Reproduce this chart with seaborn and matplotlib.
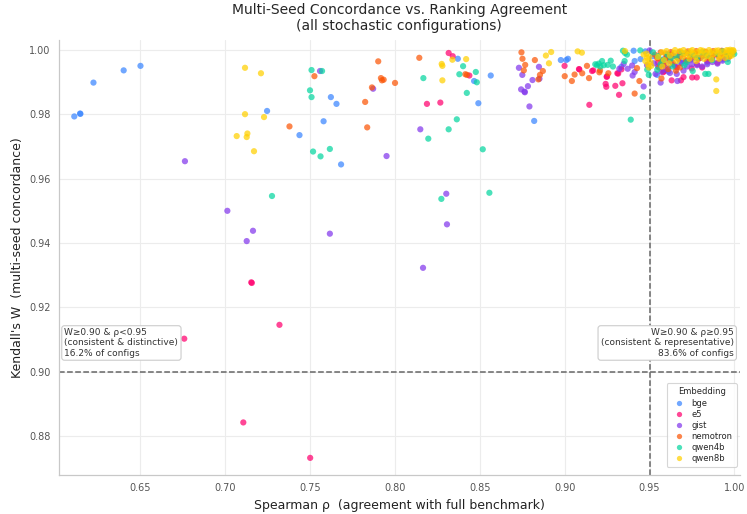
import matplotlib
matplotlib.use("Agg")
import matplotlib.pyplot as plt
import seaborn as sns
import pandas as pd

# Spearman rho vs. Kendall's W, one list pair per embedding model
bge_rho = [0.6110, 0.6144, 0.6146, 0.6223, 0.6401, 0.6500, 0.7246, 0.7437, 0.7579, 0.7622,
           0.7655, 0.7682, 0.8370, 0.8466, 0.8564, 0.8491, 0.8820, 0.8977, 0.9009, 0.9019,
           0.9334, 0.9406, 0.9412, 0.9447, 0.9544, 0.9610, 0.9475, 0.9520, 0.9580, 0.9630,
           0.9680, 0.9720, 0.9750, 0.9780, 0.9810, 0.9840, 0.9870, 0.9900, 0.9930, 0.9960,
           0.9980, 0.9650, 0.9700, 0.9850]
bge_w = [0.9793, 0.9802, 0.9801, 0.9898, 0.9936, 0.9950, 0.9810, 0.9735, 0.9778, 0.9853,
         0.9832, 0.9644, 0.9972, 0.9903, 0.9920, 0.9834, 0.9779, 0.9968, 0.9968, 0.9972,
         0.9947, 0.9997, 0.9965, 0.9971, 0.9922, 0.9932, 0.9995, 0.9980, 0.9970, 0.9985,
         0.9960, 0.9990, 0.9970, 0.9975, 0.9980, 0.9960, 0.9990, 0.9985, 0.9970, 0.9990,
         0.9995, 0.9950, 0.9965, 0.9975]

e5_rho = [0.6758, 0.7106, 0.7500, 0.7153, 0.7156, 0.7319, 0.8188, 0.8267, 0.8316, 0.8340,
          0.8438, 0.9145, 0.8999, 0.9086, 0.9168, 0.9247, 0.9241, 0.9245, 0.9298, 0.9310,
          0.9334, 0.9340, 0.9320, 0.9315, 0.9084, 0.9161, 0.9249, 0.9584, 0.9751, 0.9778,
          0.9748, 0.9550, 0.9600, 0.9630, 0.9660, 0.9700, 0.9720, 0.9750, 0.9780, 0.9810,
          0.9840, 0.9870, 0.9900, 0.9930, 0.9950, 0.9970, 0.9620, 0.9680, 0.9580, 0.9685]
e5_w = [0.9103, 0.8843, 0.8733, 0.9278, 0.9276, 0.9146, 0.9832, 0.9836, 0.9990, 0.9980,
        0.9920, 0.9829, 0.9950, 0.9939, 0.9936, 0.9916, 0.9894, 0.9885, 0.9888, 0.9927,
        0.9939, 0.9896, 0.9860, 0.9926, 0.9940, 0.9934, 0.9917, 0.9933, 0.9914, 0.9914,
        0.9942, 0.9960, 0.9975, 0.9905, 0.9945, 0.9915, 0.9965, 0.9975, 0.9955, 0.9945,
        0.9965, 0.9975, 0.9960, 0.9975, 0.9985, 0.9980, 0.9985, 0.9980, 0.9930, 0.9905]

gist_rho = [0.6762, 0.7012, 0.7163, 0.7126, 0.7616, 0.7558, 0.7871, 0.7950, 0.8149, 0.8302,
            0.8306, 0.8165, 0.8730, 0.8750, 0.8848, 0.8851, 0.8810, 0.8783, 0.8743, 0.8763,
            0.8765, 0.8792, 0.9347, 0.9371, 0.9397, 0.9400, 0.9465, 0.9412, 0.9322, 0.9500,
            0.9525, 0.9550, 0.9580, 0.9610, 0.9642, 0.9664, 0.9660, 0.9690, 0.9720, 0.9750,
            0.9780, 0.9810, 0.9840, 0.9870, 0.9900, 0.9930, 0.9960, 0.9535, 0.9570, 0.9620,
            0.9595, 0.9700, 0.9565, 0.9615, 0.9740, 0.9800, 0.9485]
gist_w = [0.9654, 0.9500, 0.9438, 0.9406, 0.9429, 0.9934, 0.9879, 0.9670, 0.9753, 0.9553,
          0.9458, 0.9323, 0.9944, 0.9922, 0.9947, 0.9910, 0.9906, 0.9887, 0.9877, 0.9870,
          0.9868, 0.9824, 0.9956, 0.9941, 0.9951, 0.9920, 0.9886, 0.9931, 0.9941, 0.9998,
          0.9958, 0.9948, 0.9952, 0.9945, 0.9954, 0.9903, 0.9925, 0.9958, 0.9948, 0.9955,
          0.9952, 0.9948, 0.9955, 0.9962, 0.9957, 0.9966, 0.9972, 0.9925, 0.9932, 0.9928,
          0.9938, 0.9935, 0.9898, 0.9965, 0.9970, 0.9975, 0.9952]

nemotron_rho = [0.7378, 0.7525, 0.7901, 0.7917, 0.7923, 0.7933, 0.7864, 0.7824, 0.7836, 0.8000,
                0.8143, 0.8414, 0.8424, 0.8745, 0.8751, 0.8767, 0.8759, 0.8824, 0.8871, 0.8854,
                0.8845, 0.9000, 0.9042, 0.9058, 0.9103, 0.9131, 0.9143, 0.9204, 0.9208, 0.9426,
                0.9440, 0.9412, 0.9257, 0.9570, 0.9545, 0.9570, 0.9600, 0.9585, 0.9620, 0.9650,
                0.9635, 0.9670, 0.9700, 0.9715, 0.9740, 0.9770, 0.9790, 0.9820, 0.9850, 0.9880,
                0.9910, 0.9940, 0.9970, 0.9990, 0.9555, 0.9610, 0.9655, 0.9680, 0.9595, 0.9530,
                0.9565, 0.9625, 0.9675, 0.9725, 0.9775, 0.9830, 0.9875, 0.9925]
nemotron_w = [0.9762, 0.9918, 0.9964, 0.9912, 0.9905, 0.9907, 0.9883, 0.9838, 0.9759, 0.9897,
              0.9975, 0.9924, 0.9922, 0.9992, 0.9972, 0.9953, 0.9936, 0.9968, 0.9934, 0.9922,
              0.9908, 0.9918, 0.9903, 0.9923, 0.9927, 0.9950, 0.9912, 0.9930, 0.9936, 0.9943,
              0.9903, 0.9864, 0.9927, 0.9911, 0.9974, 0.9965, 0.9978, 0.9955, 0.9970, 0.9980,
              0.9960, 0.9972, 0.9985, 0.9968, 0.9978, 0.9988, 0.9972, 0.9982, 0.9975, 0.9985,
              0.9978, 0.9988, 0.9982, 0.9992, 0.9945, 0.9940, 0.9935, 0.9945, 0.9988, 0.9985,
              0.9992, 0.9993, 0.9993, 0.9995, 0.9996, 0.9994, 0.9996, 0.9997]

qwen4b_rho = [0.7508, 0.7570, 0.7499, 0.7508, 0.7517, 0.7561, 0.7616, 0.7275, 0.8167, 0.8401,
              0.8379, 0.8476, 0.8482, 0.8423, 0.8364, 0.8316, 0.8196, 0.8517, 0.8273, 0.8556,
              0.9389, 0.9460, 0.9180, 0.9200, 0.9220, 0.9230, 0.9210, 0.9190, 0.9271, 0.9253,
              0.9284, 0.9343, 0.9355, 0.9367, 0.9445, 0.9353, 0.9495, 0.9486, 0.9520, 0.9550,
              0.9580, 0.9605, 0.9635, 0.9660, 0.9690, 0.9720, 0.9750, 0.9780, 0.9828, 0.9847,
              0.9810, 0.9840, 0.9870, 0.9900, 0.9930, 0.9957, 0.9980, 0.9999, 0.9961, 0.9754,
              0.9565, 0.9625, 0.9705, 0.9545]
qwen4b_w = [0.9937, 0.9934, 0.9874, 0.9853, 0.9684, 0.9669, 0.9692, 0.9546, 0.9912, 0.9949,
            0.9924, 0.9931, 0.9899, 0.9866, 0.9784, 0.9753, 0.9724, 0.9691, 0.9537, 0.9556,
            0.9783, 0.9854, 0.9955, 0.9957, 0.9965, 0.9952, 0.9948, 0.9952, 0.9966, 0.9953,
            0.9948, 0.9997, 0.9990, 0.9985, 0.9998, 0.9965, 0.9922, 0.9938, 0.9992, 0.9980,
            0.9968, 0.9985, 0.9948, 0.9978, 0.9990, 0.9962, 0.9985, 0.9975, 0.9925, 0.9925,
            0.9992, 0.9982, 0.9968, 0.9988, 0.9995, 0.9982, 0.9990, 0.9987, 0.9962, 0.9934,
            0.9955, 0.9972, 0.9952, 0.9938]

qwen8b_rho = [0.7116, 0.7210, 0.7116, 0.7228, 0.7067, 0.7130, 0.7126, 0.7169, 0.8275, 0.8279,
              0.8338, 0.8419, 0.8279, 0.8889, 0.8920, 0.8907, 0.9076, 0.9101, 0.9355, 0.9465,
              0.9475, 0.9485, 0.9490, 0.9495, 0.9482, 0.9505, 0.9498, 0.9510, 0.9550, 0.9575,
              0.9585, 0.9600, 0.9620, 0.9645, 0.9660, 0.9680, 0.9695, 0.9710, 0.9725, 0.9740,
              0.9755, 0.9770, 0.9785, 0.9800, 0.9815, 0.9830, 0.9845, 0.9860, 0.9875, 0.9890,
              0.9905, 0.9920, 0.9935, 0.9950, 0.9965, 0.9980, 0.9995, 0.9985, 0.9970, 0.9945,
              0.9910, 0.9865, 0.9820, 0.9775, 0.9735, 0.9615, 0.9575, 0.9905, 0.9955, 0.9975,
              0.9992, 0.9850, 0.9800, 0.9752, 0.9700, 0.9650, 0.9893, 0.9893]
qwen8b_w = [0.9944, 0.9927, 0.9800, 0.9791, 0.9732, 0.9740, 0.9729, 0.9685, 0.9956, 0.9950,
            0.9969, 0.9971, 0.9905, 0.9982, 0.9993, 0.9958, 0.9995, 0.9991, 0.9996, 0.9985,
            0.9965, 0.9975, 0.9955, 0.9945, 0.9988, 0.9962, 0.9978, 0.9950, 0.9978, 0.9992,
            0.9968, 0.9996, 0.9982, 0.9990, 0.9965, 0.9996, 0.9978, 0.9990, 0.9984, 0.9996,
            0.9988, 0.9978, 0.9993, 0.9985, 0.9997, 0.9988, 0.9980, 0.9993, 0.9986, 0.9997,
            0.9990, 0.9982, 0.9995, 0.9988, 0.9997, 0.9990, 0.9996, 0.9982, 0.9978, 0.9975,
            0.9972, 0.9970, 0.9972, 0.9965, 0.9972, 0.9958, 0.9948, 0.9998, 0.9999, 1.0000,
            0.9999, 0.9999, 0.9999, 0.9999, 0.9999, 0.9999, 0.9908, 0.9872]

embeddings = ["bge", "e5", "gist", "nemotron", "qwen4b", "qwen8b"]
colors = ["#3a86ff", "#ff006e", "#8338ec", "#fb5607", "#06d6a0", "#ffd000"]

series = {
    "bge": (bge_rho, bge_w),
    "e5": (e5_rho, e5_w),
    "gist": (gist_rho, gist_w),
    "nemotron": (nemotron_rho, nemotron_w),
    "qwen4b": (qwen4b_rho, qwen4b_w),
    "qwen8b": (qwen8b_rho, qwen8b_w),
}

frames = []
for name in embeddings:
    rho, w = series[name]
    frames.append(pd.DataFrame({"rho": rho, "w": w, "Embedding": name}))
df = pd.concat(frames, ignore_index=True)

sns.set_style("whitegrid")
plt.rcParams["font.family"] = ["DejaVu Sans"]

fig, ax = plt.subplots(figsize=(7.47, 5.14), dpi=100)
fig.subplots_adjust(left=0.079, right=0.99, bottom=0.076, top=0.922)

sns.scatterplot(data=df, x="rho", y="w", hue="Embedding", hue_order=embeddings,
                palette=dict(zip(embeddings, colors)), s=20, alpha=0.72,
                linewidth=0, ax=ax, zorder=3)

ax.axvline(0.95, color="#666666", linestyle="--", linewidth=1.1, zorder=2)
ax.axhline(0.90, color="#666666", linestyle="--", linewidth=1.1, zorder=2)

ax.set_xlim(0.602, 1.003)
ax.set_ylim(0.868, 1.003)
xticks = [0.65, 0.70, 0.75, 0.80, 0.85, 0.90, 0.95, 1.00]
yticks = [0.88, 0.90, 0.92, 0.94, 0.96, 0.98, 1.00]
ax.set_xticks(xticks)
ax.set_xticklabels([f"{t:.2f}" for t in xticks])
ax.set_yticks(yticks)
ax.set_yticklabels([f"{t:.2f}" for t in yticks])

ax.grid(True, color="#ececec", linewidth=0.8)
for side in ["top", "right"]:
    ax.spines[side].set_visible(False)
for side in ["left", "bottom"]:
    ax.spines[side].set_color("#c8c8c8")
    ax.spines[side].set_linewidth(0.9)
ax.tick_params(axis="both", length=3, width=0.8, color="#999999",
               labelsize=7, labelcolor="#555555", pad=3)

ax.set_xlabel("Spearman \u03c1  (agreement with full benchmark)", fontsize=9, color="#222222")
ax.set_ylabel("Kendall's W  (multi-seed concordance)", fontsize=9, color="#222222")
ax.set_title("Multi-Seed Concordance vs. Ranking Agreement\n(all stochastic configurations)",
             fontsize=10, pad=7)

box = dict(boxstyle="round,pad=0.3", facecolor="white", edgecolor="#cccccc", linewidth=0.8)
ax.text(0.008, 0.27, "W\u22650.90 & \u03c1<0.95\n(consistent & distinctive)\n16.2% of configs",
        transform=ax.transAxes, ha="left", va="bottom", fontsize=6.5, color="#333333",
        bbox=box, zorder=5, linespacing=1.15)
ax.text(0.9915, 0.27, "W\u22650.90 & \u03c1\u22650.95\n(consistent & representative)\n83.6% of configs",
        transform=ax.transAxes, ha="right", va="bottom", fontsize=6.5, color="#333333",
        bbox=box, zorder=5, linespacing=1.15, multialignment="right")

leg = ax.legend(title="Embedding", loc="lower right", bbox_to_anchor=(0.996, 0.018),
                borderaxespad=0.0, fontsize=6, title_fontsize=6, frameon=True,
                handletextpad=0.5, labelspacing=0.25, markerscale=0.85,
                borderpad=0.5)
leg.get_frame().set_edgecolor("#cccccc")
leg.get_frame().set_linewidth(0.8)

fig.savefig("out.png", dpi=100)
